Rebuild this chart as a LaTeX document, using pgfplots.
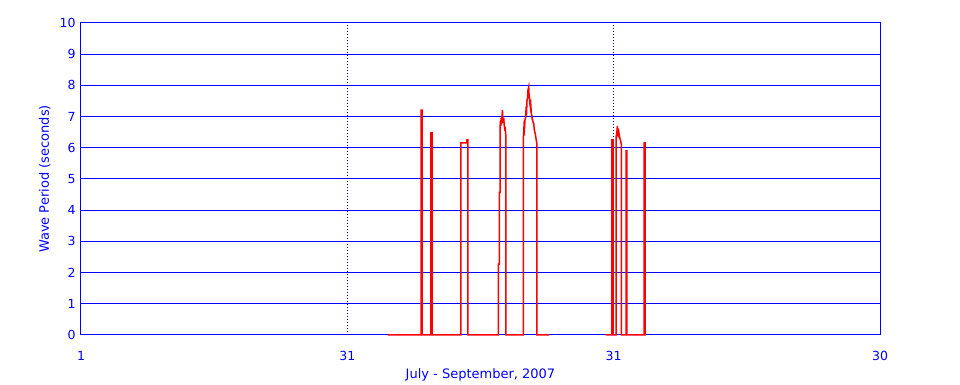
\documentclass[border=0pt]{standalone}
\usepackage{fontspec}
\setmainfont{DejaVu Sans}
\usepackage{pgfplots}
\pgfplotsset{compat=1.18}
\definecolor{pblue}{rgb}{0,0,1}
\definecolor{pred}{rgb}{1,0,0}
\definecolor{pnavy}{rgb}{0,0,0.45}
\begin{document}
\begin{tikzpicture}
\begin{axis}[
  at={(0,0)}, anchor=south west,
  scale only axis, width=799pt, height=312pt,
  xmin=0, xmax=90, ymin=0, ymax=10,
  axis line style={pblue, line width=1pt},
  xtick={0,30,60,90}, xticklabels={1,31,31,30},
  ytick={0,1,...,10},
  major tick length=0pt,
  ymajorgrids=true,
  major grid style={pblue, line width=1pt},
  extra x ticks={30,60}, extra x tick labels={},
  extra x tick style={xmajorgrids=true, major grid style={pnavy, line width=0.8pt, dash pattern=on 1pt off 2pt}},
  tick label style={pblue, font=\fontsize{12.5}{14}\selectfont},
  xticklabel style={yshift=-12.5pt},
  yticklabel style={xshift=-2pt},
  /pgf/number format/assume math mode=true,
  xlabel={July - September, 2007},
  ylabel={Wave Period (seconds)},
  label style={pblue, font=\fontsize{13}{15}\selectfont},
  xlabel style={yshift=-1pt},
  ylabel style={yshift=2pt},
  clip=false,
]
\addplot[pred, line width=1.5pt, line join=miter] coordinates {
 (34.58,0) (38.30,0) (38.30,7.21) (38.42,7.21) (38.42,0)
 (39.42,0) (39.42,6.48) (39.54,6.48) (39.54,0)
 (42.80,0) (42.80,6.16) (43.46,6.16) (43.46,6.25) (43.58,6.25) (43.58,0)
 (47.01,0) (47.01,2.27) (47.12,2.27) (47.12,4.57) (47.20,4.57) (47.20,6.60)
 (47.24,6.85) (47.28,6.70) (47.32,6.95) (47.36,6.75) (47.42,7.00) (47.47,7.21) (47.52,6.95) (47.57,6.80) (47.62,6.95)
 (47.68,6.70) (47.73,6.60) (47.79,6.62) (47.84,6.45) (47.87,6.25) (47.87,0)
 (49.82,0) (49.82,6.30) (49.86,6.45) (49.90,6.68) (49.95,6.60) (50.01,6.89) (50.07,6.95) (50.13,7.21) (50.19,7.15) (50.24,7.53)
 (50.30,7.60) (50.35,7.85) (50.43,7.95) (50.47,7.70) (50.50,7.64) (50.55,7.45) (50.61,7.32) (50.66,7.40) (50.72,7.10) (50.77,7.05) (50.82,6.92) (50.88,6.89)
 (50.93,6.80) (50.99,6.79) (51.05,6.60) (51.11,6.52) (51.16,6.45) (51.22,6.36) (51.28,6.25) (51.33,6.16) (51.36,6.10) (51.36,0)
 (52.72,0)
};
\addplot[pred, line width=1.5pt, line join=miter] coordinates {
 (59.10,0) (59.81,0) (59.81,6.25) (59.93,6.25) (59.93,0)
 (60.28,0) (60.28,6.36) (60.36,6.50) (60.42,6.70) (60.46,6.45) (60.50,6.40) (60.58,6.50)
 (60.66,6.35) (60.76,6.25) (60.88,6.09) (60.88,0)
 (61.39,0) (61.39,5.90) (61.50,5.90) (61.50,0)
 (63.42,0) (63.42,6.16) (63.53,6.16) (63.53,0) (63.64,0)
};
\end{axis}
\path[use as bounding box] (-81pt,-49pt) rectangle (879pt,335pt);
\end{tikzpicture}
\end{document}
